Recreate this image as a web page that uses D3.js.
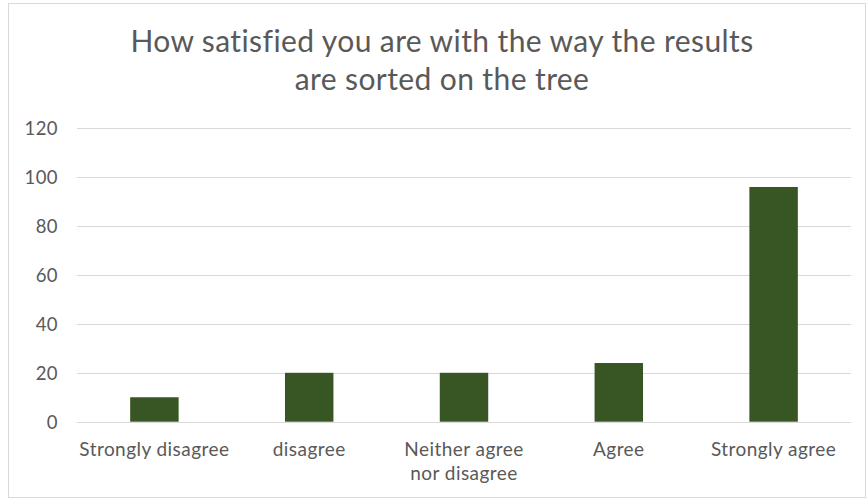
<!DOCTYPE html>
<html><head><meta charset="utf-8">
<script src="https://cdn.jsdelivr.net/npm/d3@7"></script>
<style>
html,body{margin:0;padding:0;background:#fff;}
svg{display:block;}
</style></head>
<body>
<svg id="chart" width="867" height="499"></svg>
<script>
const categories = ["Strongly disagree", "disagree", "Neither agree nor disagree", "Agree", "Strongly agree"];
const categoryLines = [["Strongly disagree"], ["disagree"], ["Neither agree", "nor disagree"], ["Agree"], ["Strongly agree"]];
const values = [10, 20, 20, 24, 96];
const yTicks = [0, 20, 40, 60, 80, 100, 120];
const titleLines = ["How satisfied you are with the way the results", "are sorted on the tree"];

const svg = d3.select("#chart");
const W = 867, H = 499;
const font = "Lato, 'Open Sans', sans-serif";
const textColor = "#595959";

// outer border
svg.append("rect").attr("x", 8.5).attr("y", 3.5).attr("width", W - 10).attr("height", H - 5)
  .attr("fill", "#fff").attr("stroke", "#d9d9d9").attr("stroke-width", 1);

const plot = {left: 77, right: 851, top: 128.3, bottom: 421.7};

const x = d3.scaleBand().domain(categories).range([plot.left, plot.right]).paddingInner(0.687).paddingOuter(0.3435);
const y = d3.scaleLinear().domain([0, 120]).range([plot.bottom, plot.top]);

// gridlines
svg.append("g").selectAll("line").data(yTicks).join("line")
  .attr("x1", plot.left).attr("x2", plot.right)
  .attr("y1", d => Math.round(y(d)) + 0.5).attr("y2", d => Math.round(y(d)) + 0.5)
  .attr("stroke", "#d9d9d9").attr("stroke-width", 1);

// y axis labels
const yAxis = d3.axisLeft(y).tickValues(yTicks).tickSize(0).tickPadding(0);
const gy = svg.append("g").attr("transform", `translate(${plot.left - 19},0)`).call(yAxis);
gy.select(".domain").remove();
gy.selectAll("text").attr("font-family", font).attr("font-size", 18.5).attr("letter-spacing", 0.4)
  .attr("fill", textColor).attr("dy", "0.36em");

// bars
svg.append("g").selectAll("rect").data(values).join("rect")
  .attr("x", (d, i) => x(categories[i]))
  .attr("width", x.bandwidth())
  .attr("y", d => y(d))
  .attr("height", d => y(0) - y(d))
  .attr("fill", "#375623");

// x axis labels
const xAxis = d3.axisBottom(x).tickSize(0).tickPadding(0).tickFormat("");
const gx = svg.append("g").attr("transform", `translate(0,${plot.bottom})`).call(xAxis);
gx.select(".domain").remove();
gx.selectAll(".tick").each(function(d, i) {
  const t = d3.select(this).append("text")
    .attr("font-family", font).attr("font-size", 19).attr("letter-spacing", 0.45).attr("fill", textColor)
    .attr("text-anchor", "middle");
  categoryLines[i].forEach((line, j) => {
    t.append("tspan").attr("x", 0).attr("y", 34.3 + j * 24).text(line);
  });
});

// title
const title = svg.append("text").attr("font-family", font).attr("font-size", 30).attr("letter-spacing", 0.4)
  .attr("fill", textColor).attr("text-anchor", "middle");
titleLines.forEach((line, j) => {
  title.append("tspan").attr("x", 442).attr("y", 52.3 + j * 38).text(line);
});
</script>
</body></html>
